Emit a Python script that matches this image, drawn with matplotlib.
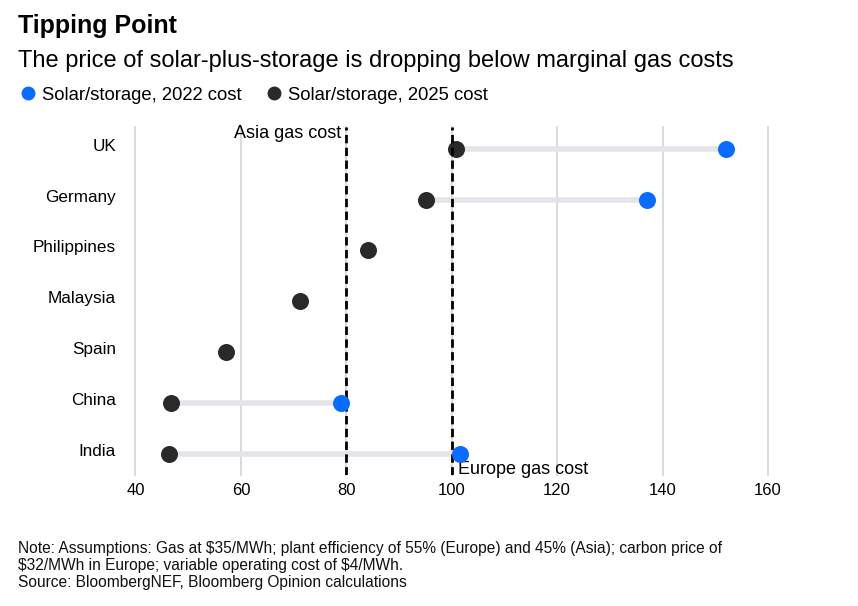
import matplotlib
matplotlib.use("Agg")
import matplotlib.pyplot as plt
from matplotlib.lines import Line2D

plt.rcParams["font.family"] = ["Liberation Sans", "DejaVu Sans"]

countries = ["UK", "Germany", "Philippines", "Malaysia", "Spain", "China", "India"]
cost_2022 = [152, 137, None, None, None, 79, 101.6]
cost_2025 = [100.8, 95.1, 84.1, 71.2, 57.1, 46.7, 46.4]
asia_gas = 80
europe_gas = 100
xticks = [40, 60, 80, 100, 120, 140, 160]

BLUE = "#0a6cff"
DARK = "#2a2a2a"
LINE = "#e4e4ea"
GRID = "#d8d8d8"

W, H = 858, 606
fig = plt.figure(figsize=(W / 100, H / 100), dpi=100)
# axes placed in pixel coords: x=40 at px 135.5, 5.27 px per unit
x0_px, y_top, y_bot = 135.5, 127, 475
xmax = 164
ax = fig.add_axes([x0_px / W, 1 - y_bot / H, (xmax - 40) * 5.27 / W, (y_bot - y_top) / H])

ypos = list(range(len(countries)))
for y, a, b in zip(ypos, cost_2022, cost_2025):
    if a is not None:
        ax.plot([b, a], [y, y], color=LINE, lw=4, solid_capstyle="butt", zorder=2)

for xv in xticks:
    ax.axvline(xv, color=GRID, lw=1.3, zorder=1, clip_on=False)

ax.axvline(asia_gas, color="black", lw=2, ls=(0, (3, 1.6)), zorder=4)
ax.axvline(europe_gas, color="black", lw=2, ls=(0, (3, 1.6)), zorder=4)

y22 = [y for y, a in zip(ypos, cost_2022) if a is not None]
x22 = [a for a in cost_2022 if a is not None]
ax.scatter(cost_2025, ypos, s=150, color=DARK, zorder=3, linewidths=0)
ax.scatter(x22, y22, s=150, color=BLUE, zorder=5, linewidths=0)

ax.set_xlim(40, xmax)
ax.set_ylim(6.42, -0.43)
ax.set_xticks(xticks)
ax.set_xticklabels([str(t) for t in xticks], fontsize=12)
ax.set_yticks([y - 0.08 for y in ypos])
ax.set_yticklabels(countries, fontsize=12.3)
ax.tick_params(length=0)
ax.tick_params(axis="x", pad=6)
ax.tick_params(axis="y", pad=14)
for s in ax.spines.values():
    s.set_visible(False)

ax.text(asia_gas - 1, -0.3, "Asia gas cost", ha="right", va="center", fontsize=13)
ax.text(europe_gas + 1.2, 6.32, "Europe gas cost", ha="left", va="center", fontsize=13)

fig.text(18 / W, 1 - 26 / H, "Tipping Point", fontsize=18, fontweight="bold", va="center")
fig.text(18 / W, 1 - 61 / H, "The price of solar-plus-storage is dropping below marginal gas costs",
         fontsize=17, va="center")

handles = [Line2D([], [], marker="o", ls="", color=BLUE, markersize=9),
           Line2D([], [], marker="o", ls="", color=DARK, markersize=9)]
fig.legend(handles, ["Solar/storage, 2022 cost", "Solar/storage, 2025 cost"],
           loc="center left", bbox_to_anchor=(0 / W, 1 - 95 / H), ncol=2, frameon=False,
           fontsize=13.3, handletextpad=0.15, columnspacing=1.2, handlelength=1.2)

notes = ["Note: Assumptions: Gas at \\$35/MWh; plant efficiency of 55% (Europe) and 45% (Asia); carbon price of",
         "\\$32/MWh in Europe; variable operating cost of \\$4/MWh.",
         "Source: BloombergNEF, Bloomberg Opinion calculations"]
for i, line in enumerate(notes):
    fig.text(18 / W, 1 - (548 + i * 17.5) / H, line, fontsize=11.2, va="center", color="#111111")

fig.savefig("out.png", dpi=100)
